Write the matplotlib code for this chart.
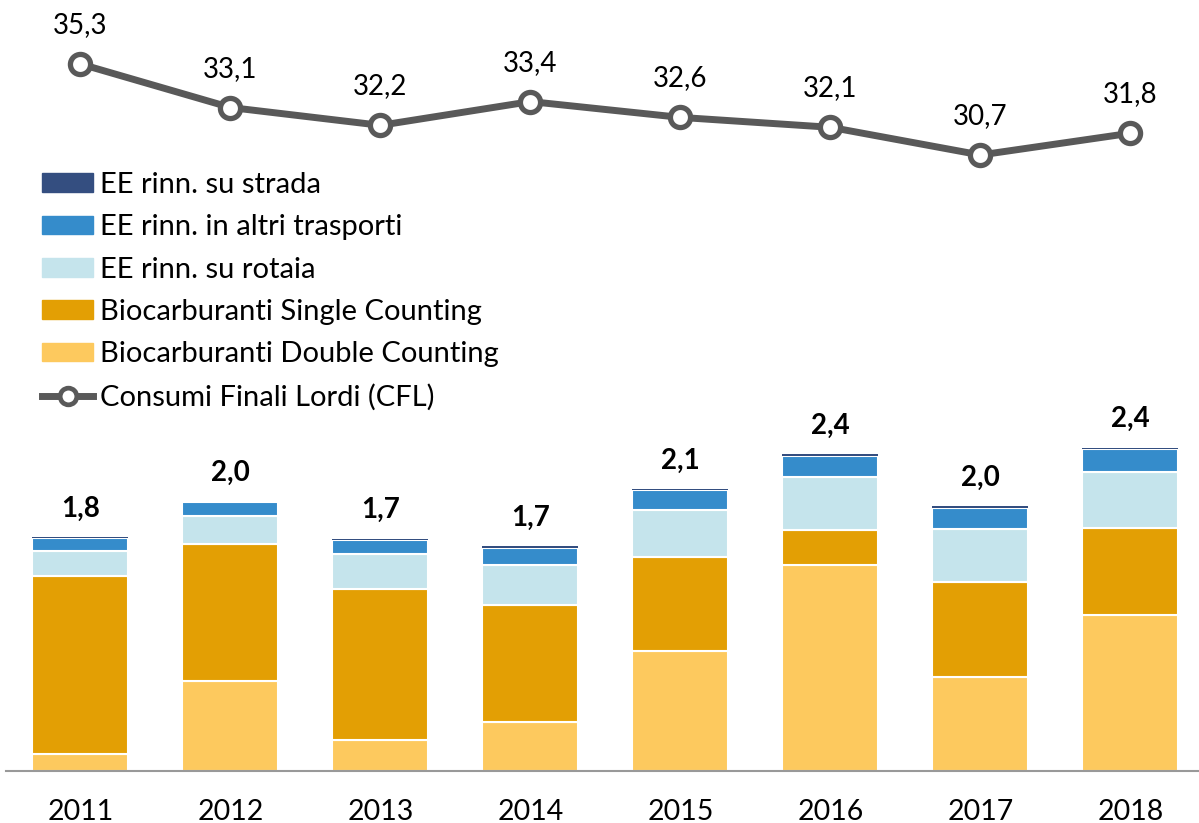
import matplotlib.pyplot as plt
import numpy as np
from matplotlib.patches import Patch
from matplotlib.lines import Line2D

plt.rcParams['font.family'] = ['Lato', 'DejaVu Sans']

years = ['2011', '2012', '2013', '2014', '2015', '2016', '2017', '2018']
ee_strada = [0.005, 0.006, 0.007, 0.008, 0.009, 0.010, 0.011, 0.012]
ee_altri = [0.10, 0.10, 0.11, 0.13, 0.15, 0.16, 0.16, 0.17]
ee_rotaia = [0.19, 0.21, 0.26, 0.30, 0.35, 0.40, 0.40, 0.42]
bio_single = [1.34, 1.03, 1.14, 0.88, 0.71, 0.26, 0.71, 0.66]
bio_double = [0.125, 0.68, 0.23, 0.37, 0.90, 1.55, 0.71, 1.17]
cfl = [35.3, 33.1, 32.2, 33.4, 32.6, 32.1, 30.7, 31.8]

c_strada = '#344E80'
c_altri = '#358CCB'
c_rotaia = '#C5E4EC'
c_single = '#E39F04'
c_double = '#FDC95E'
c_line = '#595959'

fig = plt.figure(figsize=(11.99, 8.23), dpi=100)
ax = fig.add_axes([5.5 / 1199, 52 / 823, 1193.5 / 1199, 771 / 823])
x = np.arange(len(years))
w = 0.64

bottom = np.zeros(len(years))
for vals, col in [(bio_double, c_double), (bio_single, c_single),
                  (ee_rotaia, c_rotaia), (ee_altri, c_altri)]:
    ax.bar(x, vals, w, bottom=bottom, color=col, edgecolor='white', linewidth=1.5, zorder=2)
    bottom += np.array(vals)
ax.bar(x, ee_strada, w, bottom=bottom, color=c_strada, linewidth=0, zorder=3)
bottom += np.array(ee_strada)

for xi, tot in zip(x, bottom):
    ax.annotate(f'{tot:.1f}'.replace('.', ','), (xi, tot), xytext=(0, 20.5),
                textcoords='offset points', ha='center', va='center',
                fontsize=20, fontweight='bold', color='black')

ax.set_xlim(-0.5, 7.457)
ax.set_ylim(0, 771 / 133)
ax.set_yticks([])
ax.set_xticks(x)
ax.set_xticklabels(years, fontsize=20.5)
ax.tick_params(axis='x', length=0, pad=20)
for s in ['top', 'left', 'right']:
    ax.spines[s].set_visible(False)
ax.spines['bottom'].set_color('#999999')
ax.spines['bottom'].set_linewidth(1.5)

ax2 = ax.twinx()
ax2.plot(x, cfl, color=c_line, lw=5, marker='o', ms=14.5, mfc='white',
         mec=c_line, mew=3.8, zorder=5)
for xi, v in zip(x, cfl):
    ax2.annotate(f'{v:.1f}'.replace('.', ','), (xi, v), xytext=(0, 28),
                 textcoords='offset points', ha='center', va='center',
                 fontsize=20, color='black')
ax2.set_ylim(35.3 - 707 / 19.78, 35.3 + 64 / 19.78)
ax2.set_yticks([])
for s in ['top', 'left', 'right', 'bottom']:
    ax2.spines[s].set_visible(False)

handles = [Patch(color=c_strada), Patch(color=c_altri), Patch(color=c_rotaia),
           Patch(color=c_single), Patch(color=c_double),
           Line2D([], [], color=c_line, lw=5, marker='o', ms=12, mfc='white',
                  mec=c_line, mew=3.4)]
labels = ['EE rinn. su strada', 'EE rinn. in altri trasporti', 'EE rinn. su rotaia',
          'Biocarburanti Single Counting', 'Biocarburanti Double Counting',
          'Consumi Finali Lordi (CFL)']
leg = ax2.legend(handles, labels, loc='upper left', bbox_to_anchor=(42 / 1199, 1 - 172 / 823),
                 bbox_transform=fig.transFigure, frameon=False, fontsize=21,
                 handlelength=1.75, handleheight=0.6, handletextpad=0.25,
                 labelspacing=0.56, borderpad=0, borderaxespad=0)

fig.savefig('out.png', dpi=100)
